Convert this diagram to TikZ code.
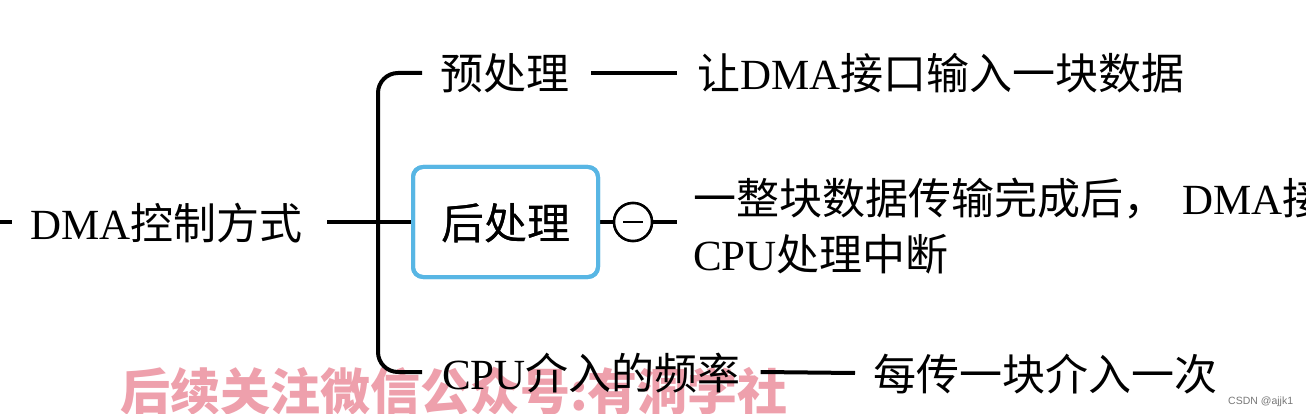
\documentclass[tikz,border=0pt]{standalone}
\usepackage{fontspec}
\setmainfont{Liberation Serif}
\newfontfamily\cjk{Noto Sans CJK SC}
\newfontfamily\arialf{Liberation Sans}
\definecolor{boxblue}{RGB}{88,182,228}
\definecolor{wmpink}{RGB}{238,160,172}
\definecolor{csdngray}{RGB}{120,120,120}
\tikzset{
  txt/.style={inner sep=0pt, outer sep=0pt, anchor=west, text height=37pt, text depth=3pt,
    font=\fontsize{43}{52}\selectfont},
  conn/.style={line width=4pt, black},
  hlbox/.style={draw=boxblue, line width=4pt, rounded corners=10pt, minimum width=185pt,
    minimum height=110pt, inner sep=0pt, text height=37pt, text depth=3pt,
    font=\fontsize{43}{52}\selectfont},
  foldmark/.style={circle, draw, line width=2.5pt, minimum size=38pt, inner sep=0pt, fill=white},
}
\begin{document}
\begin{tikzpicture}[x=1pt,y=-1pt]
\useasboundingbox (0,0) rectangle (1306,414);
\clip (0,0) rectangle (1306,414);
\fill[white] (0,0) rectangle (1306,414);
% watermark
\node[anchor=base west, inner sep=0pt, text=wmpink, font=\cjk\bfseries\fontsize{50}{58}\selectfont]
  (wm) at (120,410) {后续关注微信公众号:有洞学社};
% nodes
\node[txt] (root) at (30,222) {DMA{\cjk 控制方式}};
\coordinate (j) at (378,222);
\coordinate (s) at (0,222);
\node[txt] (pre) at (440,73) {\cjk 预处理};
\node[txt] (rdesc) at (697,73) {{\cjk 让}DMA{\cjk 接口输入一块数据}};
\node[hlbox] (box) at (505.5,222) {\cjk 后处理};
\node[foldmark] (c) at (633,222) {};
\node[inner sep=0pt, outer sep=0pt, anchor=west, align=left, font=\fontsize{43}{56}\selectfont]
  (desc) at (693,226) {{\cjk 一整块数据传输完成后，}\hspace{16pt}DMA{\cjk 接}\\CPU{\cjk 处理中断}};
\node[txt] (cpu) at (442,372) {CPU{\cjk 介入的频率}};
\node[txt] (every) at (873,373) {\cjk 每传一块介入一次};
\node[anchor=base west, inner sep=0pt, text=csdngray, font=\arialf\fontsize{10.5}{12}\selectfont]
  (csdn) at (1228,404) {CSDN @ajjk1};
% connectors
\draw[conn] (s) -- ([xshift=-18pt]root.west);
\draw[conn] ([xshift=25pt]root.east) -- (j) -- (box.west);
\draw[conn, rounded corners=20pt] ([xshift=-18pt]pre.west) -| (j) |- ([xshift=-20pt]cpu.west);
\draw[conn] ([xshift=22pt]pre.east) -- ([xshift=-20pt]rdesc.west);
\draw[conn] (box.east) -- (c.west);
\draw[conn] (c.east) -- ([xshift=-16pt]c.east -| desc.west);
\draw[conn] ([xshift=20pt]cpu.east) -- ([xshift=-18pt]every.west);
\node[hlbox] at (box.center) {\cjk 后处理};
\node[foldmark] at (c.center) {};
\draw[line width=2pt] ([xshift=-10pt]c.center) -- ([xshift=10pt]c.center);
\end{tikzpicture}
\end{document}
